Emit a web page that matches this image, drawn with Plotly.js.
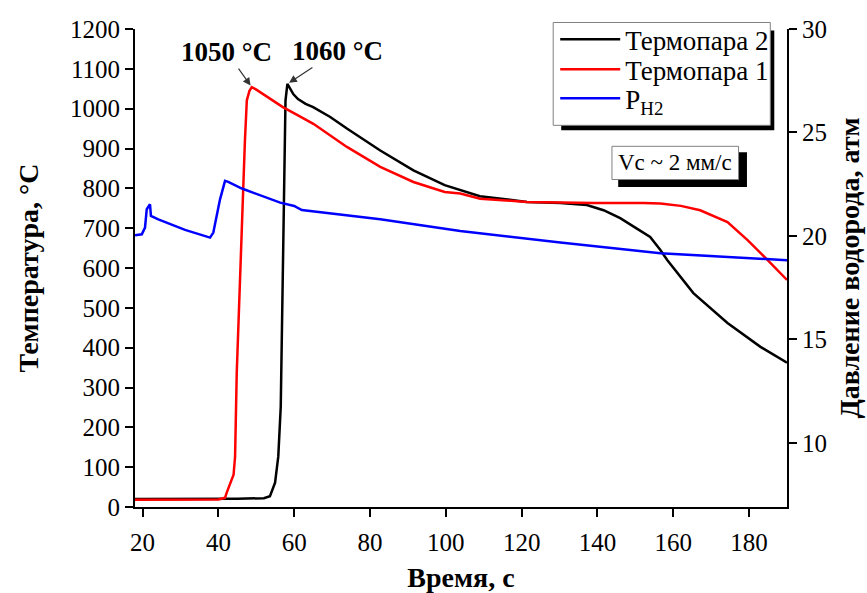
<!DOCTYPE html>
<html>
<head>
<meta charset="utf-8">
<script src="https://cdn.plot.ly/plotly-3.0.1.min.js"></script>
<style>
html,body{margin:0;padding:0;background:#fff;}
#chart{width:867px;height:593px;}
</style>
</head>
<body>
<div id="chart"></div>
<script>
// ---- data ----
var timeT2 = [18, 30, 45, 52, 53.6, 54.95, 55.8, 56.45, 56.98, 57.4, 57.7, 58.2, 59.0, 59.8, 61.0, 63.0, 65.0, 69.5, 73.9, 82.7, 91.45, 99.7, 109, 121.4, 130.2, 137.2, 141.6, 146, 150.4, 153.9, 156.6, 158.4, 165.3, 174.3, 183, 190];
var tempT2 = [20, 20, 21, 22, 27, 61, 127, 252, 587, 896, 1020, 1062, 1048, 1036, 1024, 1012, 1004, 979, 950, 895, 845, 808, 780, 766, 763, 758, 745, 725, 699, 678, 645, 620, 537, 462, 402, 362];

var timeT1 = [18, 30, 40, 41.75, 42.2, 44.0, 44.4, 44.84, 45.98, 47.0, 47.5, 48.2, 48.8, 49.8, 53, 57, 61, 65.05, 73.9, 82.7, 91.45, 99.7, 103.8, 109.05, 121.4, 139, 152.1, 156.6, 162, 167.1, 174.3, 179.6, 184.9, 190];
var tempT1 = [18, 18, 19, 23, 36, 81, 126, 337, 670, 920, 1021, 1045, 1054, 1049, 1029, 1004, 983, 962, 904, 854, 816, 791, 787, 774, 766, 763, 763, 762, 756, 745, 715, 670, 620, 570];

var timeP = [18, 19.8, 20.64, 21.1, 21.96, 22.2, 24.15, 31.2, 37.8, 38.66, 40.43, 41.75, 42.6, 46.2, 56.3, 60, 62, 63.75, 68.15, 82.7, 103.8, 130.2, 156.6, 190];
var pH2   = [20.03, 20.08, 20.4, 21.29, 21.53, 20.97, 20.8, 20.29, 19.92, 20.16, 21.77, 22.66, 22.61, 22.29, 21.61, 21.45, 21.25, 21.21, 21.13, 20.81, 20.24, 19.68, 19.16, 18.83];

var seriesNames = ['Термопара 2', 'Термопара 1', 'P<sub>H2</sub>'];
var xTicks = [20, 40, 60, 80, 100, 120, 140, 160, 180];
var yTicks = [0, 100, 200, 300, 400, 500, 600, 700, 800, 900, 1000, 1100, 1200];
var y2Ticks = [10, 15, 20, 25, 30];
var peakLabels = ['1050 °C', '1060 °C'];
var noteText = 'Vc ~ 2 мм/с';

var FONT = '"Liberation Serif", "Times New Roman", serif';

var traces = [
  {x: timeT2, y: tempT2, name: seriesNames[0], type: 'scatter', mode: 'lines', legend: 'legend',
   line: {color: '#000000', width: 2.5}},
  {x: timeT1, y: tempT1, name: seriesNames[1], type: 'scatter', mode: 'lines', legend: 'legend2',
   line: {color: '#ff0000', width: 2.5}},
  {x: timeP, y: pH2, name: seriesNames[2], type: 'scatter', mode: 'lines', yaxis: 'y2', legend: 'legend3',
   line: {color: '#0000ff', width: 2.5}}
];

function peakIdx(arr){var m=0;for(var i=1;i<arr.length;i++){if(arr[i]>arr[m])m=i;}return m;}
var p1 = peakIdx(tempT1), p2 = peakIdx(tempT2);

var axisCommon = {
  showline: true, linecolor: '#000', linewidth: 2,
  ticks: 'outside', ticklen: 8, tickwidth: 2, tickcolor: '#000',
  showgrid: false, zeroline: false,
  tickfont: {family: FONT, size: 25, color: '#000'}
};
var titleFont = {family: FONT, size: 28, color: '#000'};

function legendAt(y){
  return {
    x: 0.6445, y: y, xanchor: 'left', yanchor: 'top',
    bgcolor: 'rgba(0,0,0,0)', borderwidth: 0,
    font: {family: FONT, size: 27, color: '#000'},
    itemwidth: 60
  };
}

var layout = {
  width: 867, height: 593,
  margin: {l: 135, r: 80, t: 28.5, b: 85.7, pad: 0},
  paper_bgcolor: '#fff', plot_bgcolor: '#fff',
  font: {family: FONT, color: '#000'},
  showlegend: true,
  xaxis: Object.assign({}, axisCommon, {
    range: [18, 190], tickvals: xTicks, ticktext: xTicks.map(String), ticklabelstandoff: 4,
    title: {text: '<b>Время, с</b>', font: titleFont, standoff: 15}
  }),
  yaxis: Object.assign({}, axisCommon, {
    range: [0, 1200], tickvals: yTicks, ticktext: yTicks.map(String),
    title: {text: '<b>Температура, °C</b>', font: titleFont, standoff: 23}
  }),
  yaxis2: Object.assign({}, axisCommon, {
    overlaying: 'y', side: 'right', anchor: 'x',
    range: [6.9, 30], tickvals: y2Ticks, ticktext: y2Ticks.map(String),
    title: {text: '<b>Давление водорода, атм</b>', font: titleFont, standoff: 13}
  }),
  legend: legendAt(1.0289),
  legend2: legendAt(0.9663),
  legend3: legendAt(0.9053),
  shapes: [
    {type: 'rect', xref: 'paper', yref: 'paper', x0: 0.6537, x1: 0.9805, y0: 0.7880, y1: 0.9969,
     fillcolor: '#000', line: {width: 0}, layer: 'above'},
    {type: 'rect', xref: 'paper', yref: 'paper', x0: 0.6414, x1: 0.9744, y0: 0.7985, y1: 1.0136,
     fillcolor: '#fff', line: {color: '#808080', width: 1}, layer: 'above'},
    {type: 'rect', xref: 'paper', yref: 'paper', x0: 0.7411, x1: 0.9386, y0: 0.6696, y1: 0.7421,
     fillcolor: '#000', line: {width: 0}, layer: 'above'},
    {type: 'rect', xref: 'paper', yref: 'paper', x0: 0.7315, x1: 0.9257, y0: 0.6851, y1: 0.7546,
     fillcolor: '#fff', line: {color: '#808080', width: 1}, layer: 'above'}
  ],
  annotations: [
    {x: timeT1[p1], y: tempT1[p1], xref: 'x', yref: 'y', text: '<b>' + peakLabels[0] + '</b>',
     showarrow: true, ax: -25, ay: -35, arrowhead: 2, arrowsize: 1.3, arrowwidth: 1.2, arrowcolor: '#333',
     standoff: 2, font: {family: FONT, size: 27, color: '#000'}},
    {x: timeT2[p2], y: tempT2[p2], xref: 'x', yref: 'y', text: '<b>' + peakLabels[1] + '</b>',
     showarrow: true, ax: 50, ay: -33, arrowhead: 2, arrowsize: 1.3, arrowwidth: 1.2, arrowcolor: '#333',
     standoff: 2, font: {family: FONT, size: 27, color: '#000'}},
    {x: 0.8286, y: 0.7197, xref: 'paper', yref: 'paper', text: noteText, showarrow: false,
     xanchor: 'center', yanchor: 'middle', font: {family: FONT, size: 23, color: '#000'}}
  ]
};

Plotly.newPlot('chart', traces, layout, {displayModeBar: false, staticPlot: true});
</script>
</body>
</html>
